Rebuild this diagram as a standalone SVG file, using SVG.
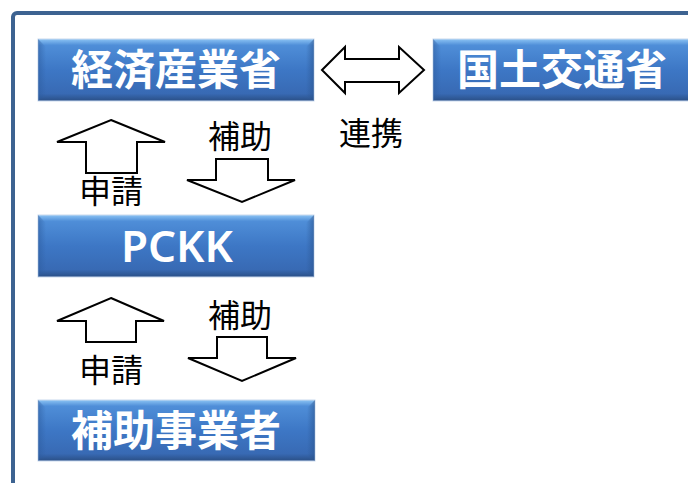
<svg xmlns="http://www.w3.org/2000/svg" width="688" height="483" viewBox="0 0 688 483">
<defs>
<linearGradient id="bg" x1="0" y1="0" x2="0" y2="1">
<stop offset="0" stop-color="#8cc4f4"/>
<stop offset="0.1" stop-color="#4f8ed8"/>
<stop offset="0.5" stop-color="#3d77c5"/>
<stop offset="0.88" stop-color="#386ab4"/>
<stop offset="1" stop-color="#2a4f86"/>
</linearGradient>
<linearGradient id="lg" x1="0" y1="0" x2="1" y2="0">
<stop offset="0" stop-color="#2d5c9e" stop-opacity="0.55"/>
<stop offset="1" stop-color="#2d5c9e" stop-opacity="0"/>
</linearGradient>
<linearGradient id="rg" x1="1" y1="0" x2="0" y2="0">
<stop offset="0" stop-color="#2a5590" stop-opacity="0.6"/>
<stop offset="1" stop-color="#2a5590" stop-opacity="0"/>
</linearGradient>
</defs>
<style>
.box{fill:url(#bg);stroke:#c9d9ee;stroke-width:1}
.bl{fill:url(#lg)}
.br{fill:url(#rg)}
.bt{fill:#ffffff;font-family:"Noto Sans CJK JP","Noto Sans",sans-serif;font-weight:bold;font-size:42px;text-anchor:middle}
.lbl{fill:#000;font-family:"Noto Sans CJK JP",sans-serif;font-size:32px;text-anchor:middle}
.arr{fill:#fff;stroke:#000;stroke-width:2;stroke-linejoin:miter}
</style>
<rect x="13" y="13" width="700" height="500" rx="4" fill="none" stroke="#3d6391" stroke-width="4"/>
<g id="meti">
<rect class="box" x="38" y="39" width="276" height="62"/>
<polygon class="bl" points="38,39 46,47 46,95 38,101"/>
<polygon class="br" points="314,39 306,47 306,95 314,101"/>
<text class="bt" x="176" y="85">経済産業省</text>
</g>
<g id="mlit">
<rect class="box" x="433" y="39" width="276" height="62"/>
<polygon class="bl" points="433,39 441,47 441,95 433,101"/>
<text class="bt" x="562" y="85">国土交通省</text>
</g>
<g id="pckk">
<rect class="box" x="38" y="215" width="276" height="62"/>
<polygon class="bl" points="38,215 46,223 46,271 38,277"/>
<polygon class="br" points="314,215 306,223 306,271 314,277"/>
<text class="bt" x="177" y="262" style="font-family:'Noto Sans',sans-serif;font-weight:600;font-size:44px">PCKK</text>
</g>
<g id="hojo">
<rect class="box" x="38" y="400" width="277" height="61"/>
<polygon class="bl" points="38,400 46,408 46,455 38,461"/>
<polygon class="br" points="315,400 307,408 307,455 315,461"/>
<text class="bt" x="176" y="446">補助事業者</text>
</g>
<g id="connectors">
<polygon class="arr" points="111,120 165,142 137,142 137,173 86,173 86,142 57,142"/>
<polygon class="arr" points="216,159 268,159 268,180 295,180 242,202 187,180 216,180"/>
<polygon class="arr" points="111,298 164,321 136,321 136,342 86,342 86,321 57,321"/>
<polygon class="arr" points="217,337 267,337 267,358 296,358 242,381 188,358 217,358"/>
<polygon class="arr" points="322,70 345,47 345,59 399,59 399,47 424,70 399,93 399,82 345,82 345,93"/>
<text class="lbl" x="240" y="148">補助</text>
<text class="lbl" x="111" y="203">申請</text>
<text class="lbl" x="371" y="145">連携</text>
<text class="lbl" x="240" y="327">補助</text>
<text class="lbl" x="111" y="382">申請</text>
</g>
</svg>
